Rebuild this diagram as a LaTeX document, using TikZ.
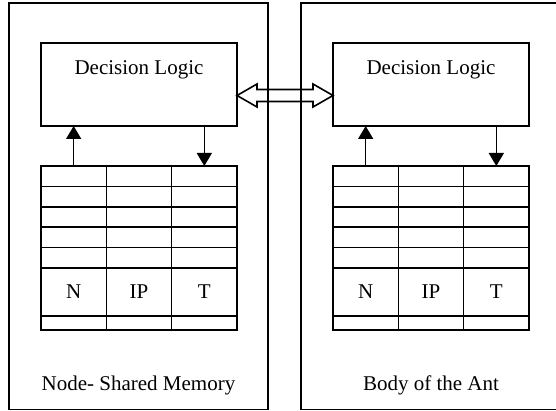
\documentclass[tikz,border=0pt]{standalone}
\usepackage{fontspec}
\setmainfont{Liberation Serif}
\usetikzlibrary{arrows.meta,calc}

\begin{document}
\begin{tikzpicture}[
    x=1pt, y=1pt,
    every node/.style={font=\fontsize{21}{25}\selectfont},
    box/.style={draw, line width=1.6pt, minimum width=259pt, minimum height=406pt, inner sep=0pt, outer sep=0pt},
    logic/.style={draw, line width=1.6pt, minimum width=196pt, minimum height=83pt, inner sep=0pt, outer sep=0pt},
    cell/.style={draw, line width=1.6pt, minimum width=65.33pt, minimum height=20.4pt, inner sep=0pt, outer sep=0pt},
    tallcell/.style={cell, minimum height=48pt},
    thincell/.style={cell, minimum height=14pt},
    flow/.style={line width=1.6pt, -{Triangle[width=15pt,length=13pt]}},
    link/.style={line width=1.6pt, line join=miter},
]

% Page frame (the right box runs off the edge)
\useasboundingbox (0,0) rectangle (556,-411);
\clip (0,0) rectangle (556,-411);

% Cell size and table origins
\pgfmathsetmacro{\cw}{65.33}
\pgfmathsetmacro{\rh}{20.4}
\pgfmathsetmacro{\ty}{-166}
\pgfmathsetmacro{\mx}{41}
\pgfmathsetmacro{\ax}{333}

% === Outer boxes ===
\node[box, label={[anchor=base, yshift=19pt]south:Node- Shared Memory}] (mem) at (138.5,-206.3) {};
\node[box, minimum width=260pt, label={[anchor=base, yshift=19pt]south:Body of the Ant}] (ant) at (431,-206.3) {};

% === Decision logic blocks ===
\node[logic, label={[anchor=base, yshift=-32pt]north:Decision Logic}] (Mdl) at (139,-84.5) {};
\node[logic, label={[anchor=base, yshift=-32pt]north:Decision Logic}] (Adl) at (431,-84.5) {};

% === Left table (3 columns) ===
% Rows 0-4
\node[cell] (M00) at (\mx+0.5*\cw, \ty-0.5*\rh) {};
\node[cell] (M01) at (\mx+1.5*\cw, \ty-0.5*\rh) {};
\node[cell] (M02) at (\mx+2.5*\cw, \ty-0.5*\rh) {};
\node[cell] (M10) at (\mx+0.5*\cw, \ty-1.5*\rh) {};
\node[cell] (M11) at (\mx+1.5*\cw, \ty-1.5*\rh) {};
\node[cell] (M12) at (\mx+2.5*\cw, \ty-1.5*\rh) {};
\node[cell] (M20) at (\mx+0.5*\cw, \ty-2.5*\rh) {};
\node[cell] (M21) at (\mx+1.5*\cw, \ty-2.5*\rh) {};
\node[cell] (M22) at (\mx+2.5*\cw, \ty-2.5*\rh) {};
\node[cell] (M30) at (\mx+0.5*\cw, \ty-3.5*\rh) {};
\node[cell] (M31) at (\mx+1.5*\cw, \ty-3.5*\rh) {};
\node[cell] (M32) at (\mx+2.5*\cw, \ty-3.5*\rh) {};
\node[cell] (M40) at (\mx+0.5*\cw, \ty-4.5*\rh) {};
\node[cell] (M41) at (\mx+1.5*\cw, \ty-4.5*\rh) {};
\node[cell] (M42) at (\mx+2.5*\cw, \ty-4.5*\rh) {};

% Row 5 (field names)
\node[tallcell] (M50) at (\mx+0.5*\cw, \ty-5*\rh-24) {N};
\node[tallcell] (M51) at (\mx+1.5*\cw, \ty-5*\rh-24) {IP};
\node[tallcell] (M52) at (\mx+2.5*\cw, \ty-5*\rh-24) {T};

% Row 6
\node[thincell] (M60) at (\mx+0.5*\cw, \ty-5*\rh-55) {};
\node[thincell] (M61) at (\mx+1.5*\cw, \ty-5*\rh-55) {};
\node[thincell] (M62) at (\mx+2.5*\cw, \ty-5*\rh-55) {};

% === Right table (3 columns) ===
% Rows 0-4
\node[cell] (A00) at (\ax+0.5*\cw, \ty-0.5*\rh) {};
\node[cell] (A01) at (\ax+1.5*\cw, \ty-0.5*\rh) {};
\node[cell] (A02) at (\ax+2.5*\cw, \ty-0.5*\rh) {};
\node[cell] (A10) at (\ax+0.5*\cw, \ty-1.5*\rh) {};
\node[cell] (A11) at (\ax+1.5*\cw, \ty-1.5*\rh) {};
\node[cell] (A12) at (\ax+2.5*\cw, \ty-1.5*\rh) {};
\node[cell] (A20) at (\ax+0.5*\cw, \ty-2.5*\rh) {};
\node[cell] (A21) at (\ax+1.5*\cw, \ty-2.5*\rh) {};
\node[cell] (A22) at (\ax+2.5*\cw, \ty-2.5*\rh) {};
\node[cell] (A30) at (\ax+0.5*\cw, \ty-3.5*\rh) {};
\node[cell] (A31) at (\ax+1.5*\cw, \ty-3.5*\rh) {};
\node[cell] (A32) at (\ax+2.5*\cw, \ty-3.5*\rh) {};
\node[cell] (A40) at (\ax+0.5*\cw, \ty-4.5*\rh) {};
\node[cell] (A41) at (\ax+1.5*\cw, \ty-4.5*\rh) {};
\node[cell] (A42) at (\ax+2.5*\cw, \ty-4.5*\rh) {};

% Row 5 (field names)
\node[tallcell] (A50) at (\ax+0.5*\cw, \ty-5*\rh-24) {N};
\node[tallcell] (A51) at (\ax+1.5*\cw, \ty-5*\rh-24) {IP};
\node[tallcell] (A52) at (\ax+2.5*\cw, \ty-5*\rh-24) {T};

% Row 6
\node[thincell] (A60) at (\ax+0.5*\cw, \ty-5*\rh-55) {};
\node[thincell] (A61) at (\ax+1.5*\cw, \ty-5*\rh-55) {};
\node[thincell] (A62) at (\ax+2.5*\cw, \ty-5*\rh-55) {};

% === Read / write arrows ===
\draw[flow] (M00.north) -- (M00.north |- Mdl.south);
\draw[flow] (Mdl.south -| M02.north) -- (M02.north);
\draw[flow] (A00.north) -- (A00.north |- Adl.south);
\draw[flow] (Adl.south -| A02.north) -- (A02.north);

% === Hollow double arrow between the two logic blocks ===
\coordinate (lt) at ([yshift=-11pt]Mdl.east);
\coordinate (rt) at ([yshift=-11pt]Adl.west);
\draw[link] (lt) -- ++(20,11.5) -- ++(0,-5.5) -- ([shift={(-20,6)}]rt) -- ++(0,5.5) -- (rt)
    -- ++(-20,-11.5) -- ++(0,5.5) -- ([shift={(20,-6)}]lt) -- ++(0,-5.5) -- cycle;

\end{tikzpicture}
\end{document}
